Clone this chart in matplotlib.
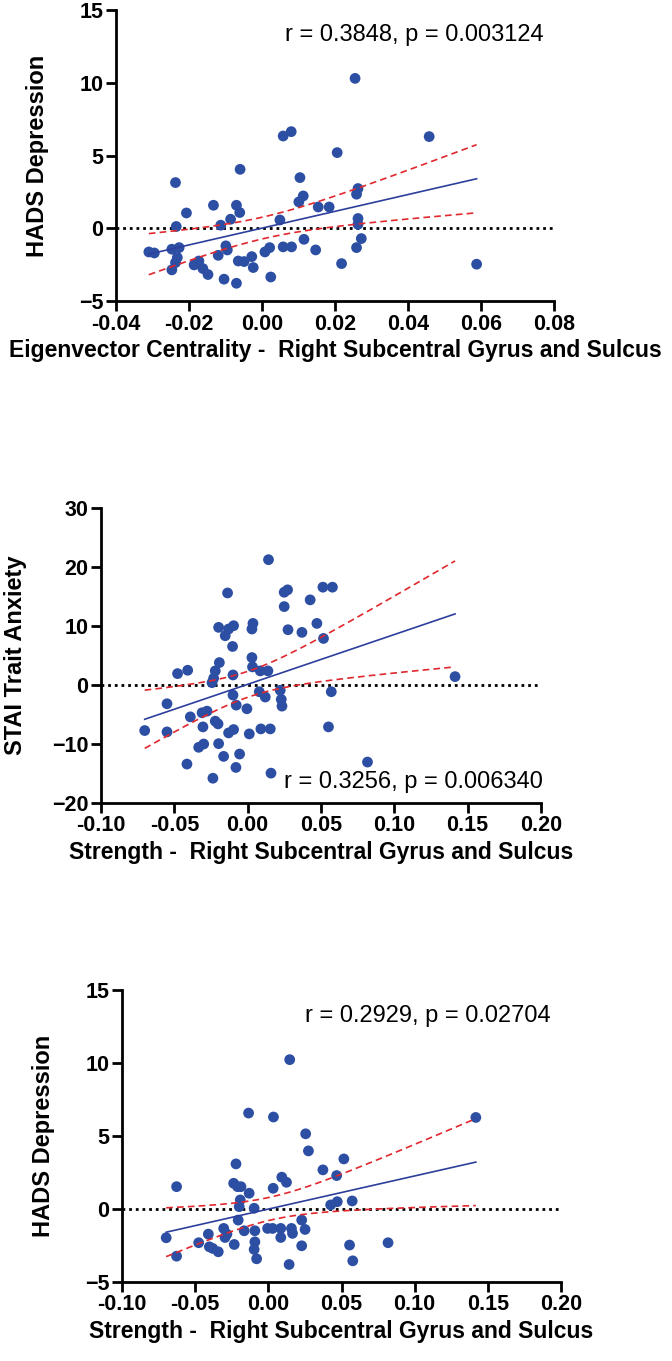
import numpy as np
import matplotlib
matplotlib.use("Agg")
import matplotlib.pyplot as plt

plt.rcParams['font.family'] = ['Liberation Sans', 'DejaVu Sans']

# panel 1: eigenvector centrality vs HADS depression
x1 = [-0.0310, -0.0295, -0.0237, -0.0235, -0.0207, -0.0247, -0.0227, -0.0232, -0.0237, -0.0247,
      -0.0186, -0.0173, -0.0162, -0.0148, -0.0133, -0.0113, -0.0120, -0.0099, -0.0095, -0.0104,
      -0.0086, -0.0070, -0.0061, -0.0060, -0.0070, -0.0065, -0.0049, -0.0028, -0.0024, 0.0008,
      0.0021, 0.0024, 0.0049, 0.0058, 0.0080, 0.0058, 0.0081, 0.0104, 0.0113, 0.0101,
      0.0115, 0.0147, 0.0154, 0.0184, 0.0206, 0.0218, 0.0255, 0.0263, 0.0259, 0.0263,
      0.0263, 0.0272, 0.0259, 0.0458, 0.0588]
y1 = [-1.63, -1.70, 3.14, 0.12, 1.05, -1.44, -1.33, -2.01, -2.36, -2.86,
      -2.52, -2.25, -2.77, -3.18, 1.58, 0.21, -1.86, -1.21, -1.49, -3.50,
      0.62, 1.58, 1.08, 4.05, -3.78, -2.25, -2.29, -1.95, -2.70, -1.63,
      -1.33, -3.35, 0.57, 6.34, 6.64, -1.28, -1.28, 3.48, 2.22, 1.81,
      -0.76, -1.49, 1.46, 1.46, 5.20, -2.43, 10.30, 2.73, 2.34, 0.67,
      0.27, -0.71, -1.33, 6.30, -2.47]

# panel 2: strength vs STAI trait anxiety
x2 = [-0.0702, -0.0550, -0.0550, -0.0478, -0.0409, -0.0414, -0.0391, -0.0334, -0.0300, -0.0305,
      -0.0311, -0.0277, -0.0237, -0.0221, -0.0202, -0.0198, -0.0164, -0.0243, -0.0232, -0.0221,
      -0.0193, -0.0198, -0.0153, -0.0130, -0.0096, -0.0137, -0.0103, -0.0100, -0.0100, -0.0078,
      -0.0130, -0.0096, -0.0055, -0.0080, -0.0005, 0.0011, 0.0029, 0.0033, 0.0036, 0.0029,
      0.0086, 0.0138, 0.0079, 0.0120, 0.0090, 0.0154, 0.0159, 0.0142, 0.0222, 0.0229,
      0.0234, 0.0249, 0.0272, 0.0249, 0.0275, 0.0370, 0.0426, 0.0472, 0.0517, 0.0513,
      0.0578, 0.0551, 0.0570, 0.0817, 0.1414]
y2 = [-7.72, -7.95, -3.18, 1.93, 2.50, -13.4, -5.40, -10.56, -10.0, -7.10,
      -4.71, -4.43, -15.8, -6.13, -6.59, -9.94, -12.1, 0.40, 1.14, 2.39,
      3.80, 9.77, 8.35, 9.49, 10.05, 15.6, 6.53, 1.70, -1.70, -3.41,
      -8.12, -7.55, -11.7, -13.97, -4.03, -8.29, 4.65, 3.07, 10.44, 9.49,
      2.39, 2.39, -1.14, -2.04, -7.44, -7.44, -14.94, 21.24, -0.90, -2.44,
      -3.58, 15.72, 16.13, 13.29, 9.37, 8.92, 14.43, 10.44, 7.89, 16.58,
      16.58, -7.10, -1.14, -13.06, 1.42]

# panel 3: strength vs HADS depression
x3 = [-0.0698, -0.0627, -0.0627, -0.0476, -0.0410, -0.0403, -0.0380, -0.0342, -0.0305, -0.0296,
      -0.0283, -0.0233, -0.0221, -0.0237, -0.0210, -0.0187, -0.0192, -0.0199, -0.0131, -0.0135,
      -0.0165, -0.0206, -0.0097, -0.0092, -0.0092, -0.0097, -0.0080, -0.0005, 0.0029, 0.0033,
      0.0035, 0.0085, 0.0085, 0.0092, 0.0124, 0.0146, 0.0142, 0.0158, 0.0165, 0.0228,
      0.0251, 0.0228, 0.0255, 0.0274, 0.0373, 0.0467, 0.0426, 0.0471, 0.0516, 0.0573,
      0.0555, 0.0577, 0.0818, 0.1418]
y3 = [-1.97, 1.53, -3.23, -2.31, -1.72, -2.59, -2.70, -2.93, -1.33, -1.95,
      -1.72, -2.43, 3.09, 1.76, 1.53, 1.53, 0.62, 0.16, 1.08, 6.57,
      -1.49, -0.76, 0.05, -1.49, -2.25, -2.77, -3.41, -1.33, -1.33, 1.42,
      6.30, -1.33, -1.95, 2.18, 1.83, 10.23, -3.80, -1.33, -1.67, -0.76,
      -1.40, -2.52, 5.15, 3.98, 2.68, 2.29, 0.28, 0.50, 3.43, 0.55,
      -2.47, -3.55, -2.31, 6.27]

xlabels = ["Eigenvector Centrality -  Right Subcentral Gyrus and Sulcus",
           "Strength -  Right Subcentral Gyrus and Sulcus",
           "Strength -  Right Subcentral Gyrus and Sulcus"]
ylabels = ["HADS Depression", "STAI Trait Anxiety", "HADS Depression"]
stats = ["r = 0.3848, p = 0.003124", "r = 0.3256, p = 0.006340", "r = 0.2929, p = 0.02704"]
xticks = [[-0.04, -0.02, 0.00, 0.02, 0.04, 0.06, 0.08],
          [-0.10, -0.05, 0.00, 0.05, 0.10, 0.15, 0.20],
          [-0.10, -0.05, 0.00, 0.05, 0.10, 0.15, 0.20]]
yticks = [[-5, 0, 5, 10, 15], [-20, -10, 0, 10, 20, 30], [-5, 0, 5, 10, 15]]

W, H = 672, 1361
# axes boxes in pixels: left, top, right, bottom
boxes = [(116, 10, 554, 301), (101, 508, 541, 803), (122, 990, 561, 1282)]
stat_pos = [(0.386, 0.914), (0.4165, 0.071), (0.417, 0.91)]
ylab_x = [49, 27, 55]   # right edge of the rotated y label, px

DOT = "#2c4ea3"
LINE = "#2d3f9c"
CI = "#e0282e"


def fit_band(x, y, t=2.0):
    x = np.asarray(x); y = np.asarray(y)
    b, a = np.polyfit(x, y, 1)
    xs = np.linspace(x.min(), x.max(), 200)
    n = len(x)
    s = np.sqrt(np.sum((y - (a + b * x)) ** 2) / (n - 2))
    sxx = np.sum((x - x.mean()) ** 2)
    se = s * np.sqrt(1.0 / n + (xs - x.mean()) ** 2 / sxx)
    fit = a + b * xs
    return xs, fit, fit - t * se, fit + t * se


fig = plt.figure(figsize=(W / 100, H / 100), dpi=100)

data = [(x1, y1), (x2, y2), (x3, y3)]
for i, (xv, yv) in enumerate(data):
    l, t_, r, b = boxes[i]
    ax = fig.add_axes([l / W, 1 - b / H, (r - l) / W, (b - t_) / H])
    ax.set_xlim(xticks[i][0], xticks[i][-1])
    ax.set_ylim(yticks[i][0], yticks[i][-1])
    ax.axhline(0, color="black", lw=2.0, linestyle=(0, (1, 1.4)), zorder=1)
    ax.scatter(xv, yv, s=60, color=DOT, edgecolors="none", zorder=3, clip_on=False)
    xs, fit, lo, hi = fit_band(xv, yv)
    ax.plot(xs, fit, color=LINE, lw=1.2, zorder=4)
    ax.plot(xs, lo, color=CI, lw=1.2, ls=(0, (4, 2.5)), zorder=4)
    ax.plot(xs, hi, color=CI, lw=1.2, ls=(0, (4, 2.5)), zorder=4)

    for sp in ["top", "right"]:
        ax.spines[sp].set_visible(False)
    for sp in ["left", "bottom"]:
        ax.spines[sp].set_linewidth(2.0)
    ax.set_xticks(xticks[i])
    ax.set_xticklabels(["%.2f" % v for v in xticks[i]])
    ax.set_yticks(yticks[i])
    ax.tick_params(direction="out", length=7, width=2.0, labelsize=15.5, pad=2)
    for lab in ax.get_xticklabels() + ax.get_yticklabels():
        lab.set_fontweight("bold")
    ax.set_xlabel(xlabels[i], fontsize=16.5, fontweight="bold", labelpad=3)
    ax.set_ylabel(ylabels[i], fontsize=17, fontweight="bold")
    ax.yaxis.set_label_coords((ylab_x[i] - l) / (r - l), 0.5)
    ax.text(stat_pos[i][0], stat_pos[i][1], stats[i], transform=ax.transAxes,
            fontsize=17, va="center", ha="left")

fig.savefig("out.png", dpi=100)
